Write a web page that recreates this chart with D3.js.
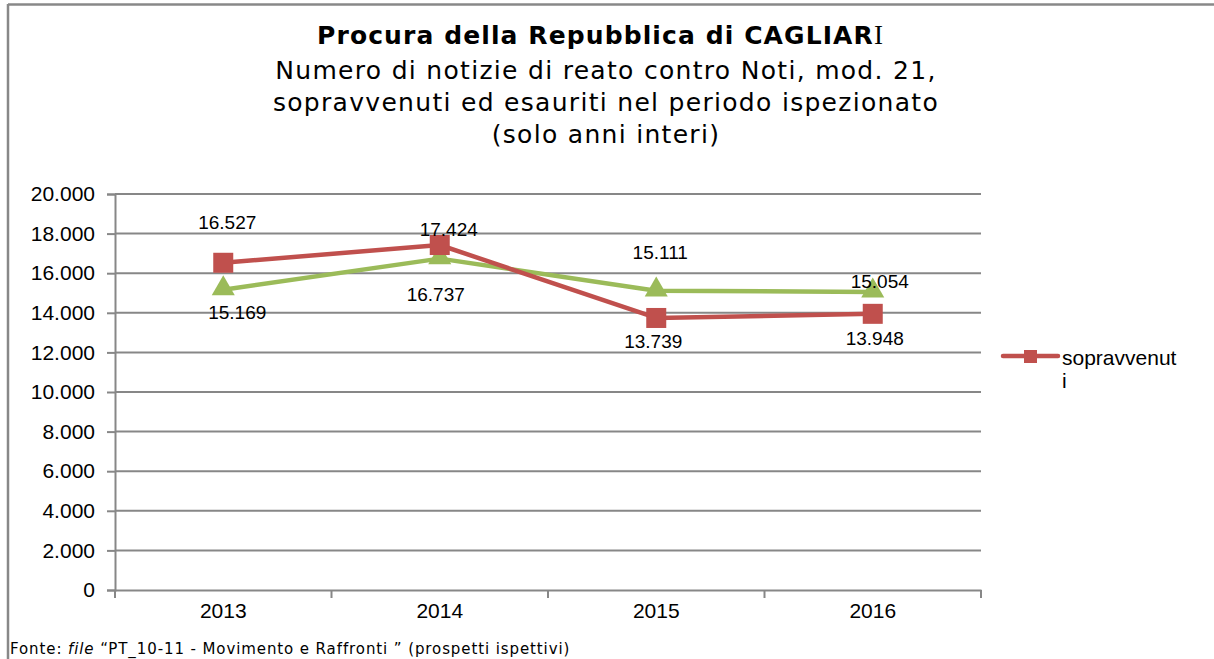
<!DOCTYPE html>
<html><head><meta charset="utf-8">
<script src="https://cdn.jsdelivr.net/npm/d3@7"></script>
<style>
html,body{margin:0;padding:0;background:#fff;}
svg{display:block;}
</style></head>
<body>
<svg id="chart" width="1214" height="659"></svg>
<script>
const categories = ["2013", "2014", "2015", "2016"];
const sopravvenuti = [16527, 17424, 13739, 13948];
const esauriti = [15169, 16737, 15111, 15054];
const yTicks = [0, 2000, 4000, 6000, 8000, 10000, 12000, 14000, 16000, 18000, 20000];
const titleBold = "Procura della Repubblica di CAGLIAR";
const titleLast = "I";
const subtitleLines = ["Numero di notizie di reato contro Noti, mod. 21,", "sopravvenuti ed esauriti nel periodo ispezionato", "(solo anni interi)"];
const legendLabel = ["sopravvenut", "i"];

const fmt = v => d3.format(",")(v).replace(/,/g, ".");
const svg = d3.select("#chart");
const W = 1214, H = 659;
const red = "#C0504D", green = "#9BBB59", grid = "#878787";

// frame
svg.append("line").attr("x1", 8).attr("x2", W).attr("y1", 4.5).attr("y2", 4.5).attr("stroke", "#888").attr("stroke-width", 2.5);
svg.append("line").attr("x1", 8).attr("x2", 8).attr("y1", 4).attr("y2", H).attr("stroke", "#888").attr("stroke-width", 2.5);

const plot = {left: 115, right: 981, top: 194, bottom: 590};
const x = d3.scaleBand().domain(categories).range([plot.left, plot.right]);
const y = d3.scaleLinear().domain([0, 20000]).range([plot.bottom, plot.top]);

const axFont = "Liberation Sans, Arial, sans-serif";

// gridlines
svg.append("g").selectAll("line").data(yTicks.filter(t => t > 0)).join("line")
  .attr("x1", plot.left).attr("x2", plot.right)
  .attr("y1", d => y(d)).attr("y2", d => y(d))
  .attr("stroke", grid).attr("stroke-width", 2);

// y axis
const yAxis = svg.append("g").attr("transform", `translate(${plot.left},0)`)
  .call(d3.axisLeft(y).tickValues(yTicks).tickFormat(fmt).tickSize(8).tickPadding(12));
yAxis.select(".domain").attr("stroke", grid).attr("stroke-width", 2);
yAxis.selectAll(".tick line").attr("stroke", grid).attr("stroke-width", 2);
yAxis.selectAll(".tick text").attr("font-family", axFont).attr("font-size", 21).attr("fill", "#000");

// x axis
const xAxis = svg.append("g").attr("transform", `translate(0,${plot.bottom})`)
  .call(d3.axisBottom(x).tickSize(0).tickPadding(13));
xAxis.select(".domain").attr("stroke", grid).attr("stroke-width", 2);
xAxis.selectAll(".tick text").attr("font-family", axFont).attr("font-size", 21).attr("fill", "#000");
// boundary ticks
const bounds = categories.map(c => x(c)).concat([x(categories[categories.length - 1]) + x.bandwidth()]);
svg.append("g").selectAll("line").data(bounds).join("line")
  .attr("x1", d => d).attr("x2", d => d).attr("y1", plot.bottom).attr("y2", plot.bottom + 8)
  .attr("stroke", grid).attr("stroke-width", 2);

const cx = c => x(c) + x.bandwidth() / 2;
const line = d3.line().x((d, i) => cx(categories[i])).y(d => y(d));

// green series
svg.append("path").datum(esauriti).attr("d", line).attr("fill", "none").attr("stroke", green).attr("stroke-width", 4.5).attr("stroke-linejoin", "round");
const tri = d3.symbol().type(d3.symbolTriangle).size(230);
svg.append("g").selectAll("path").data(esauriti).join("path")
  .attr("d", tri).attr("transform", (d, i) => `translate(${cx(categories[i])},${y(d) - 1})`).attr("fill", green);

// red series
svg.append("path").datum(sopravvenuti).attr("d", line).attr("fill", "none").attr("stroke", red).attr("stroke-width", 4.5).attr("stroke-linejoin", "round");
svg.append("g").selectAll("rect").data(sopravvenuti).join("rect")
  .attr("x", (d, i) => cx(categories[i]) - 10).attr("y", d => y(d) - 10).attr("width", 20).attr("height", 20).attr("fill", red);

// data labels (offsets relative to points)
const redOff = [[4, -40], [9, -16], [-3, 24], [2, 25]];
const greenOff = [[14, 23], [-4, 36], [4, -38], [7, -10]];
svg.append("g").selectAll("text").data(sopravvenuti).join("text")
  .attr("x", (d, i) => cx(categories[i]) + redOff[i][0]).attr("y", (d, i) => y(d) + redOff[i][1])
  .attr("text-anchor", "middle").attr("dominant-baseline", "central")
  .attr("font-family", axFont).attr("font-size", 19).attr("fill", "#000").text(fmt);
svg.append("g").selectAll("text").data(esauriti).join("text")
  .attr("x", (d, i) => cx(categories[i]) + greenOff[i][0]).attr("y", (d, i) => y(d) + greenOff[i][1])
  .attr("text-anchor", "middle").attr("dominant-baseline", "central")
  .attr("font-family", axFont).attr("font-size", 19).attr("fill", "#000").text(fmt);

// title
const tFont = "DejaVu Sans, Verdana, sans-serif";
const t = svg.append("text").attr("x", 600).attr("y", 44).attr("text-anchor", "middle")
  .attr("font-family", tFont).attr("font-size", 25).attr("letter-spacing", 1.1).attr("fill", "#000");
t.append("tspan").attr("font-weight", "bold").text(titleBold);
t.append("tspan").attr("font-family", "Liberation Serif, serif").attr("font-size", 27).attr("letter-spacing", 0).text(titleLast);
svg.append("g").selectAll("text").data(subtitleLines).join("text")
  .attr("x", 606).attr("y", (d, i) => 79 + i * 32).attr("text-anchor", "middle")
  .attr("font-family", tFont).attr("font-size", 25).attr("letter-spacing", 1.3).attr("fill", "#000").text(d => d);

// legend
const lg = svg.append("g").attr("transform", "translate(1003,356)");
lg.append("line").attr("x1", 0).attr("x2", 55).attr("y1", 0).attr("y2", 0).attr("stroke", red).attr("stroke-width", 4.5).attr("stroke-linecap", "round");
lg.append("rect").attr("x", 21).attr("y", -6).attr("width", 13).attr("height", 13).attr("fill", red);
lg.selectAll("text").data(legendLabel).join("text")
  .attr("x", 59).attr("y", (d, i) => 9 + i * 23)
  .attr("font-family", axFont).attr("font-size", 21).attr("fill", "#000").text(d => d);

// footer
const f = svg.append("text").attr("x", 10).attr("y", 654).attr("font-family", tFont).attr("font-size", 15).attr("letter-spacing", 0.9).attr("fill", "#000");
f.append("tspan").text("Fonte: ");
f.append("tspan").attr("font-style", "italic").text("file");
f.append("tspan").text(" \u201CPT_10-11 - Movimento e Raffronti \u201D (prospetti ispettivi)");
</script>
</body></html>
